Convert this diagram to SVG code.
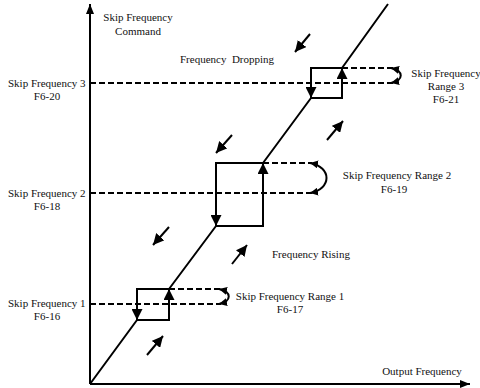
<svg xmlns="http://www.w3.org/2000/svg" width="480" height="388" viewBox="0 0 480 388">
<defs>
<marker id="ah" viewBox="0 0 10 10" refX="10" refY="5" markerWidth="5.5" markerHeight="5.5" orient="auto" markerUnits="strokeWidth"><path d="M0,0 L10,5 L0,10 z" fill="#000"/></marker>
<marker id="ahs" viewBox="0 0 10 10" refX="10" refY="5" markerWidth="4" markerHeight="4" orient="auto-start-reverse" markerUnits="strokeWidth"><path d="M0,0 L10,5 L0,10 z" fill="#000"/></marker>
<marker id="axis" viewBox="0 0 10 10" refX="10" refY="5" markerWidth="5" markerHeight="5" orient="auto" markerUnits="strokeWidth"><path d="M0,1 L10,5 L0,9 z" fill="#000"/></marker>
</defs>
<style>
text{font-family:'Liberation Serif','DejaVu Serif',serif;font-size:11px;fill:#111}
.m{text-anchor:middle}
.ln{stroke:#000;stroke-width:2;fill:none}
.dash{stroke:#000;stroke-width:1.8;fill:none;stroke-dasharray:6,3}
.dir{stroke:#000;stroke-width:2;fill:none;marker-end:url(#ah)}
.vr{stroke:#000;stroke-width:2;fill:none;marker-end:url(#ah)}
.cv{stroke:#000;stroke-width:2;fill:none;marker-start:url(#ahs);marker-end:url(#ahs)}
</style>
<rect width="480" height="388" fill="#fff"/>
<g id="connectors">
<line class="ln" x1="90" y1="384" x2="90" y2="4" style="marker-end:url(#axis)"/>
<line class="ln" x1="90" y1="384" x2="470" y2="384" style="marker-end:url(#axis)"/>
<path class="ln" d="M90,384 L137,320 M169,289 L216,226 M263,163 L311,98 M342,68 L388,4"/>
<path class="dash" d="M90,83 H393 M342,68 H393"/>
<path class="dash" d="M90,193 H312 M263,163 H312"/>
<path class="dash" d="M90,304 H221 M169,289 H221"/>
<path class="cv" d="M391,68 C404,71 404,80 391,83"/>
<path class="cv" d="M310,163 C332,167 332,189 310,193"/>
<path class="cv" d="M219,289 C232,292 232,301 219,304"/>
<line class="dir" x1="310" y1="34" x2="295" y2="52"/>
<line class="dir" x1="232" y1="135" x2="216" y2="153"/>
<line class="dir" x1="169" y1="227" x2="153" y2="245"/>
<line class="dir" x1="327" y1="140" x2="343" y2="121"/>
<line class="dir" x1="232" y1="264" x2="247" y2="245"/>
<line class="dir" x1="147" y1="355" x2="163" y2="336"/>
</g>
<g id="box3">
<path class="ln" d="M311,68 H342 V98 H311 Z"/>
<line class="vr" x1="311" y1="70" x2="311" y2="98"/>
<line class="vr" x1="342" y1="96" x2="342" y2="68"/>
</g>
<g id="box2">
<path class="ln" d="M216,163 H263 V226 H216 Z"/>
<line class="vr" x1="216" y1="165" x2="216" y2="226"/>
<line class="vr" x1="263" y1="224" x2="263" y2="163"/>
</g>
<g id="box1">
<path class="ln" d="M137,289 H169 V320 H137 Z"/>
<line class="vr" x1="137" y1="291" x2="137" y2="320"/>
<line class="vr" x1="169" y1="318" x2="169" y2="289"/>
</g>
<g id="labels" font-family="'Liberation Serif','DejaVu Serif',serif">
<text class="m" x="138" y="21">Skip Frequency</text>
<text class="m" x="138" y="35">Command</text>
<text x="180" y="63" xml:space="preserve">Frequency  Dropping</text>
<text class="m" x="446" y="77">Skip Frequency</text>
<text class="m" x="446" y="90">Range 3</text>
<text class="m" x="446" y="103">F6-21</text>
<text x="8" y="87">Skip Frequency 3</text>
<text class="m" x="47" y="100">F6-20</text>
<text x="8" y="197">Skip Frequency 2</text>
<text class="m" x="47" y="210">F6-18</text>
<text x="8" y="307">Skip Frequency 1</text>
<text class="m" x="47" y="320">F6-16</text>
<text class="m" x="397" y="179">Skip Frequency Range 2</text>
<text class="m" x="394" y="193">F6-19</text>
<text x="272" y="258">Frequency Rising</text>
<text class="m" x="290" y="300">Skip Frequency Range 1</text>
<text class="m" x="290" y="313">F6-17</text>
<text class="m" x="422" y="375">Output Frequency</text>
</g>
</svg>
